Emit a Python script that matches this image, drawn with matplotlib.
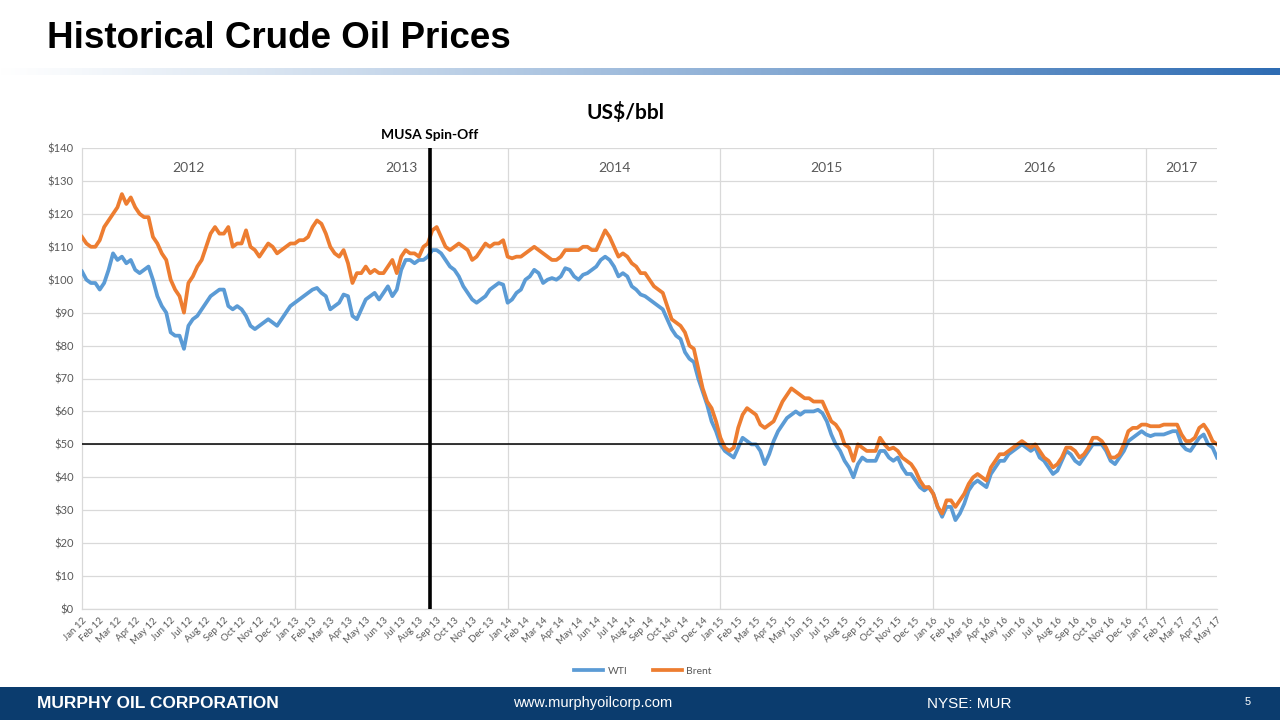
import matplotlib
matplotlib.use('Agg')
import matplotlib.pyplot as plt
import numpy as np
from matplotlib.patches import Rectangle
from matplotlib.lines import Line2D

# ---------------- data (approx. weekly, 4 points per month) ----------------
months = ["Jan", "Feb", "Mar", "Apr", "May", "Jun", "Jul", "Aug", "Sep", "Oct", "Nov", "Dec"]
month_labels = [f"{m} {y}" for y in range(12, 18) for m in months][:65]
year_labels = ["2012", "2013", "2014", "2015", "2016", "2017"]
year_label_pos = [6, 18, 30, 42, 54, 62]
year_lines = [12, 24, 36, 48, 60]

brent_2012 = [113, 111, 110, 110, 112, 116, 118, 120, 122, 126, 123, 125,
              122, 120, 119, 119, 113, 111, 108, 106, 100, 97, 95, 90,
              99, 101, 104, 106, 110, 114, 116, 114, 114, 116, 110, 111,
              111, 115, 110, 109, 107, 109, 111, 110, 108, 109, 110, 111]
brent_2013 = [111, 112, 112, 113, 116, 118, 117, 114, 110, 108, 107, 109,
              105, 99, 102, 102, 104, 102, 103, 102, 102, 104, 106, 102,
              107, 109, 108, 108, 107, 110, 111, 115, 116, 113, 110, 109,
              110, 111, 110, 109, 106, 107, 109, 111, 110, 111, 111, 112]
brent_2014 = [107, 106.5, 107, 107, 108, 109, 110, 109, 108, 107, 106, 106,
              107, 109, 109, 109, 109, 110, 110, 109, 109, 112, 115, 113,
              110, 107, 108, 107, 105, 104, 102, 102, 100, 98, 97, 96,
              92, 88, 87, 86, 84, 80, 79, 73, 67, 63, 61, 57]
brent_2015 = [52, 49, 48, 49, 55, 59, 61, 60, 59, 56, 55, 56,
              57, 60, 63, 65, 67, 66, 65, 64, 64, 63, 63, 63,
              60, 57, 56, 54, 50, 49, 45, 50, 49, 48, 48, 48,
              52, 50, 48.5, 49, 48, 46, 45, 44, 42, 39, 37, 37]
brent_2016 = [35, 31, 29, 33, 33, 31, 33, 35, 38, 40, 41, 40,
              39, 43, 45, 47, 47, 48, 49, 50, 51, 50, 49, 50,
              48, 46, 45, 43, 44, 46, 49, 49, 48, 46, 47, 49,
              52, 52, 51, 49, 46, 46, 47, 50, 54, 55, 55, 56]
brent_2017 = [56, 55.5, 55.5, 55.5, 56, 56, 56, 56, 53, 51, 51, 52,
              55, 56, 54, 51, 50]

wti_2012 = [102.5, 100, 99, 99, 97, 99, 103, 108, 106, 107, 105, 106,
            103, 102, 103, 104, 100, 95, 92, 90, 84, 83, 83, 79,
            86, 88, 89, 91, 93, 95, 96, 97, 97, 92, 91, 92,
            91, 89, 86, 85, 86, 87, 88, 87, 86, 88, 90, 92]
wti_2013 = [93, 94, 95, 96, 97, 97.5, 96, 95, 91, 92, 93, 95.5,
            95, 89, 88, 91, 94, 95, 96, 94, 96, 98, 95, 97,
            103, 106, 106, 105, 106, 106, 107, 109, 109, 108, 106, 104,
            103, 101, 98, 96, 94, 93, 94, 95, 97, 98, 99, 98.5]
wti_2014 = [93, 94, 96, 97, 100, 101, 103, 102, 99, 100, 100.5, 100,
            101, 103.5, 103, 101, 100, 101.5, 102, 103, 104, 106, 107, 106,
            104, 101, 102, 101, 98, 97, 95.5, 95, 94, 93, 92, 91,
            88, 85, 83, 82, 78, 76, 75, 70, 66, 62, 57, 54]
wti_2015 = [50, 48, 47, 46, 49, 52, 51, 50, 50, 48, 44, 47,
            51, 54, 56, 58, 59, 60, 59, 60, 60, 60, 60.5, 59.5,
            57, 53, 50, 48, 45, 43, 40, 44, 46, 45, 45, 45,
            48, 48, 46, 45, 46, 43, 41, 41, 39, 37, 36, 37]
wti_2016 = [35, 31, 28, 31, 31, 27, 29, 32, 36, 38, 39, 38,
            37, 41, 43, 45, 45, 47, 48, 49, 50, 49, 48, 49,
            46, 45, 43, 41, 42, 45, 48, 47, 45, 44, 46, 48,
            50, 50, 50, 48, 45, 44, 46, 48, 51, 52, 53, 54]
wti_2017 = [53, 52.5, 53, 53, 53, 53.5, 54, 54, 50, 48.5, 48, 50,
            52, 53, 50, 49, 46]

wti = wti_2012 + wti_2013 + wti_2014 + wti_2015 + wti_2016 + wti_2017
brent = brent_2012 + brent_2013 + brent_2014 + brent_2015 + brent_2016 + brent_2017
musa_spin_off = 19.6   # months after Jan 2012 (late Aug 2013)
ref_price = 50

# ---------------- figure ----------------
W, H = 1280, 720
fig = plt.figure(figsize=(W / 100, H / 100), dpi=100)
fig.patch.set_facecolor('white')

def fx(x):
    return x / W

def fy(y):
    return 1 - y / H

CHART_FONT = ['Lato', 'DejaVu Sans']
GRAY = '#595959'
SANS = ['Liberation Sans', 'DejaVu Sans']

# title
fig.text(fx(47), fy(38), "Historical Crude Oil Prices", family=SANS,
         fontweight='bold', fontsize=26.5, va='center', ha='left', color='black')

# gradient bar
gax = fig.add_axes([0, fy(75), 1, 7 / H])
gax.axis('off')
grad = np.linspace(0, 1, 512) ** 1.1
c0 = np.array([1.0, 1.0, 1.0])
c1 = np.array([0x2E, 0x6C, 0xB3]) / 255
img = c0[None, :] * (1 - grad[:, None]) + c1[None, :] * grad[:, None]
gax.imshow(img[None, :, :], aspect='auto', extent=[0, 1, 0, 1])
gax.set_xlim(0, 1)
gax.set_ylim(0, 1)

# footer band
fig.patches.append(Rectangle((0, 0), 1, 33 / H, transform=fig.transFigure,
                             facecolor='#0B3C6E', edgecolor='none', zorder=0))
fig.text(fx(37), fy(703), "MURPHY OIL CORPORATION", family=SANS,
         fontweight='bold', fontsize=12.5, color='white', va='center', ha='left')
fig.text(fx(593), fy(703), "www.murphyoilcorp.com", family=SANS,
         fontsize=10.5, color='white', va='center', ha='center')
fig.text(fx(969), fy(704), "NYSE: MUR", family=SANS,
         fontsize=11, color='white', va='center', ha='center')
fig.text(fx(1248), fy(702), "5", family=SANS,
         fontsize=8, color='white', va='center', ha='center')

# main axes
ax = fig.add_axes([fx(82), fy(609), (1217 - 82) / W, (609 - 148) / H])
x = np.arange(len(wti)) / 4.0
ax.plot(x, wti, color='#5B9BD5', lw=2.7, label='WTI', zorder=3, solid_joinstyle='round')
ax.plot(x, brent, color='#ED7D31', lw=2.7, label='Brent', zorder=4, solid_joinstyle='round')

ax.set_xlim(0, 64)
ax.set_ylim(0, 140)
ax.set_yticks(np.arange(0, 141, 10))
ax.set_yticklabels([f"${v}" for v in range(0, 141, 10)], family=CHART_FONT, fontsize=8, color=GRAY)
ax.set_xticks(np.arange(65))
ax.set_xticklabels(month_labels, rotation=45, ha='right', rotation_mode='anchor',
                   family=CHART_FONT, fontsize=7, color=GRAY)
ax.tick_params(axis='both', length=0, pad=6)
ax.tick_params(axis='x', pad=5)
ax.grid(axis='y', color='#D9D9D9', lw=0.9, zorder=1)
for yl in year_lines:
    ax.axvline(yl, color='#D9D9D9', lw=0.9, zorder=1)
for s in ['top', 'right']:
    ax.spines[s].set_visible(False)
ax.spines['left'].set_color('#D9D9D9')
ax.spines['bottom'].set_color('#D9D9D9')
ax.spines['left'].set_linewidth(0.9)
ax.spines['bottom'].set_linewidth(0.9)

ax.axhline(ref_price, color='black', lw=1.1, zorder=5)
ax.axvline(musa_spin_off, color='black', lw=2.6, zorder=6)

for lbl, pos in zip(year_labels, year_label_pos):
    ax.text(pos, 134, lbl, ha='center', va='center', family=CHART_FONT, fontsize=10, color=GRAY)

fig.text(fx(430), fy(135), "MUSA Spin-Off", family=CHART_FONT, fontweight='bold',
         fontsize=10, ha='center', va='center', color='black')
fig.text(fx(625), fy(113), "US$/bbl", family=CHART_FONT, fontweight='bold',
         fontsize=15, ha='center', va='center', color='black')

handles = [Line2D([0], [0], color='#5B9BD5', lw=2.7), Line2D([0], [0], color='#ED7D31', lw=2.7)]
fig.legend(handles, ['WTI', 'Brent'], loc='center', bbox_to_anchor=(fx(643), fy(671)), ncol=2,
           frameon=False, prop={'family': CHART_FONT, 'size': 7.5}, labelcolor=GRAY,
           handlelength=2.8, columnspacing=2.5, handletextpad=0.4)

fig.savefig('out.png', dpi=100)
